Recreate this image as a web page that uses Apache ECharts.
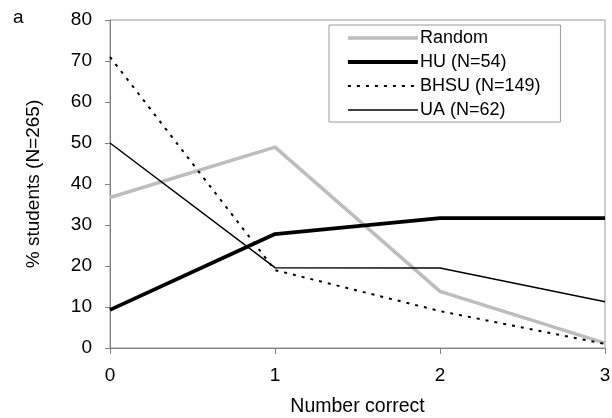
<!DOCTYPE html>
<html>
<head>
<meta charset="utf-8">
<script src="https://cdn.jsdelivr.net/npm/echarts@6/dist/echarts.min.js"></script>
<style>
  html, body { margin: 0; padding: 0; background: #fff; }
  #chart { width: 612px; height: 418px; }
</style>
</head>
<body>
<div id="chart"></div>
<script>
const numberCorrect = [0, 1, 2, 3]
const randomData = [36.7, 49.0, 13.8, 1.2]
const huData = [9.3, 27.8, 31.7, 31.7]
const bhsuData = [71.0, 19.0, 9.0, 1.0]
const uaData = [50.0, 19.6, 19.5, 11.3]
const yTicks = [0, 10, 20, 30, 40, 50, 60, 70, 80]

const font = 'Liberation Sans, Arial, sans-serif'
const axisColor = '#808080'

const chart = echarts.init(document.getElementById('chart'))

function pairs (vals) {
  return numberCorrect.map(function (x, i) { return [x, vals[i]] })
}

const option = {
  backgroundColor: '#fff',
  animation: false,
  textStyle: { fontFamily: font },
  title: {
    text: 'a',
    left: 8,
    top: 3,
    textStyle: { fontSize: 19, fontWeight: 'normal', color: '#000', fontFamily: font }
  },
  grid: {
    left: 110,
    right: 7,
    top: 20,
    bottom: 70,
    outerBoundsMode: 'none',
    containLabel: false,
    show: true,
    borderColor: '#999',
    borderWidth: 1
  },
  legend: {
    orient: 'vertical',
    left: 329,
    top: 25,
    padding: [4, 20, 3, 17],
    itemWidth: 70,
    itemHeight: 14,
    itemGap: 6,
    borderColor: '#999',
    borderWidth: 1,
    backgroundColor: '#fff',
    itemStyle: { color: 'transparent', borderWidth: 0, opacity: 0 },
    lineStyle: { width: 'inherit', type: 'inherit', color: 'inherit' },
    textStyle: { fontSize: 18, color: '#000', fontFamily: font, padding: [0, 0, 0, -3] },
    data: ['Random', 'HU (N=54)', 'BHSU (N=149)', 'UA (N=62)']
  },
  xAxis: {
    type: 'value',
    min: 0,
    max: 3,
    interval: 1,
    name: 'Number correct',
    nameLocation: 'middle',
    nameGap: 49,
    nameTextStyle: { fontSize: 19.5, color: '#000', fontFamily: font },
    axisLine: { lineStyle: { color: axisColor, width: 1 } },
    axisTick: { show: true, length: 6, lineStyle: { color: axisColor } },
    axisLabel: { fontSize: 19, color: '#000', margin: 18, fontFamily: font },
    splitLine: { show: false }
  },
  yAxis: {
    type: 'value',
    min: 0,
    max: 80,
    interval: 10,
    name: '% students (N=265)',
    nameLocation: 'middle',
    nameGap: 67,
    nameTextStyle: { fontSize: 19, color: '#000', fontFamily: font },
    axisLine: { show: true, lineStyle: { color: axisColor, width: 1 } },
    axisTick: { show: true, length: 5, lineStyle: { color: axisColor } },
    axisLabel: {
      fontSize: 19,
      color: '#000',
      margin: 18,
      fontFamily: font,
      formatter: function (v) { return yTicks.indexOf(v) >= 0 ? String(v) : '' }
    },
    splitLine: { show: false }
  },
  series: [
    {
      name: 'Random',
      type: 'line',
      symbol: 'none',
      data: pairs(randomData),
      lineStyle: { color: '#bdbdbd', width: 3.5 },
      itemStyle: { color: '#bdbdbd' },
      z: 2
    },
    {
      name: 'HU (N=54)',
      type: 'line',
      symbol: 'none',
      data: pairs(huData),
      lineStyle: { color: '#000', width: 3.8 },
      itemStyle: { color: '#000' },
      z: 3
    },
    {
      name: 'BHSU (N=149)',
      type: 'line',
      symbol: 'none',
      data: pairs(bhsuData),
      lineStyle: { color: '#000', width: 2, type: [3, 6] },
      itemStyle: { color: '#000' },
      z: 3
    },
    {
      name: 'UA (N=62)',
      type: 'line',
      symbol: 'none',
      data: pairs(uaData),
      lineStyle: { color: '#000', width: 1.5 },
      itemStyle: { color: '#000' },
      z: 3
    }
  ]
}

chart.setOption(option)
</script>
</body>
</html>
